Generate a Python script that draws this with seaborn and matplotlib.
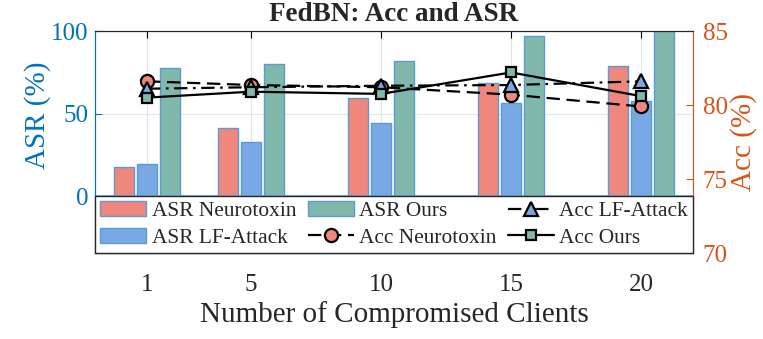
import matplotlib
matplotlib.use('Agg')
import matplotlib.pyplot as plt
from matplotlib.patches import Patch
import pandas as pd
import seaborn as sns

# data
clients = [1, 5, 10, 15, 20]
asr_neurotoxin = [17.6, 41.0, 59.2, 68.7, 78.7]
asr_lf_attack = [19.3, 32.5, 44.4, 56.2, 57.4]
asr_ours = [77.5, 80.3, 82.0, 97.0, 100.0]
acc_neurotoxin = [81.6, 81.35, 81.2, 80.7, 79.9]
acc_lf_attack = [81.1, 81.2, 81.3, 81.35, 81.6]
acc_ours = [80.5, 80.9, 80.75, 82.2, 80.6]

methods = ['Neurotoxin', 'LF-Attack', 'Ours']
bar_colors = {'Neurotoxin': '#F0877D', 'LF-Attack': '#79A9E4', 'Ours': '#80B8AB'}
blue = '#0072BD'
orange = '#D95319'

df = pd.DataFrame({
    'clients': clients * 3,
    'method': [m for m in methods for _ in clients],
    'asr': asr_neurotoxin + asr_lf_attack + asr_ours,
})

sns.set_style('white')
plt.rcParams['font.family'] = ['Liberation Serif', 'DejaVu Serif']

fig = plt.figure(figsize=(7.63, 3.39), dpi=100)
ax = fig.add_axes([95 / 763, 86 / 339, 598 / 763, 222 / 339])

# bars on the left axis
sns.barplot(data=df, x='clients', y='asr', hue='method', hue_order=methods,
            palette=bar_colors, native_scale=True, orient='x', width=0.675,
            gap=0.15, saturation=1, errorbar=None, edgecolor='#5A9BD5',
            linewidth=1.0, legend=False, ax=ax, zorder=2)
ax.axhline(0, color='#6AA5DC', lw=1.2, zorder=3)

ax.set_xlim(-1, 22)
ax.set_ylim(-34.5, 100)
ax.set_xticks(clients)
ax.set_xticklabels([str(c) for c in clients])
ax.set_yticks([0, 50, 100])
ax.set_xlabel('Number of Compromised Clients', fontsize=21, color='#262626',
              labelpad=4)
ax.set_ylabel('ASR (%)', fontsize=21, color=blue)
ax.yaxis.set_label_coords(-0.073, 0.62)
ax.tick_params(axis='x', labelsize=18, direction='in', top=True, bottom=True,
               length=5, color='black', pad=15, labelcolor='#262626')
ax.tick_params(axis='y', labelsize=18, direction='in', length=5, color=blue,
               labelcolor=blue, pad=5)
ax.xaxis.grid(True, color='#E3E3E3', lw=0.8)
ax.yaxis.grid(True, color='#DCE7F2', lw=0.8)
ax.set_axisbelow(True)
for side in ['top', 'bottom']:
    ax.spines[side].set_color('#262626')
ax.spines['left'].set_color(blue)
ax.spines['right'].set_color(orange)

# accuracy lines on the right axis
ax2 = ax.twinx()
sns.lineplot(x=clients, y=acc_neurotoxin, ax=ax2, color='black', lw=1.6,
             linestyle=(0, (6, 3)), marker='o', markersize=9.5,
             markerfacecolor=bar_colors['Neurotoxin'], markeredgecolor='black',
             markeredgewidth=1.6)
sns.lineplot(x=clients, y=acc_lf_attack, ax=ax2, color='black', lw=1.6,
             linestyle=(0, (6, 2.5, 1.2, 2.5)), marker='^', markersize=9.5,
             markerfacecolor=bar_colors['LF-Attack'], markeredgecolor='black',
             markeredgewidth=1.6)
sns.lineplot(x=clients, y=acc_ours, ax=ax2, color='black', lw=1.6,
             linestyle='-', marker='s', markersize=7,
             markerfacecolor=bar_colors['Ours'], markeredgecolor='black',
             markeredgewidth=1.6)
ax2.set_ylim(70, 85)
ax2.set_yticks([70, 75, 80, 85])
ax2.set_xlim(-1, 22)
ax2.tick_params(axis='y', labelsize=18, direction='in', length=5, color=orange,
                labelcolor=orange, pad=7)
ax2.set_ylabel('Acc (%)', fontsize=21, color=orange, rotation=90)
ax2.yaxis.set_label_coords(1.062, 0.5)
ax2.spines['right'].set_color(orange)
ax2.spines['left'].set_color(blue)
ax2.spines['top'].set_color('#262626')
ax2.spines['bottom'].set_color('#262626')

ax.set_title('FedBN: Acc and ASR', fontsize=19.5, fontweight='bold', pad=7)

# legend in the lower box
lines = ax2.get_lines()
handles = [Patch(facecolor=bar_colors[m], edgecolor='#5A9BD5', lw=1.0) for m in methods]
handles += list(lines[:3])
labels = ['ASR Neurotoxin', 'ASR LF-Attack', 'ASR Ours',
          'Acc Neurotoxin', 'Acc LF-Attack', 'Acc Ours']
leg = ax2.legend(handles, labels,
                 ncol=3, loc='lower left', bbox_to_anchor=(0, 0, 1, 0.248),
                 mode='expand', borderaxespad=0, fontsize=15.4, frameon=True,
                 fancybox=False, framealpha=1, edgecolor='#262626',
                 handlelength=2.15, handletextpad=0.25, labelspacing=0.3,
                 borderpad=0.25, columnspacing=0.5)
leg.get_frame().set_linewidth(1.0)

plt.savefig('out.png', dpi=100)
